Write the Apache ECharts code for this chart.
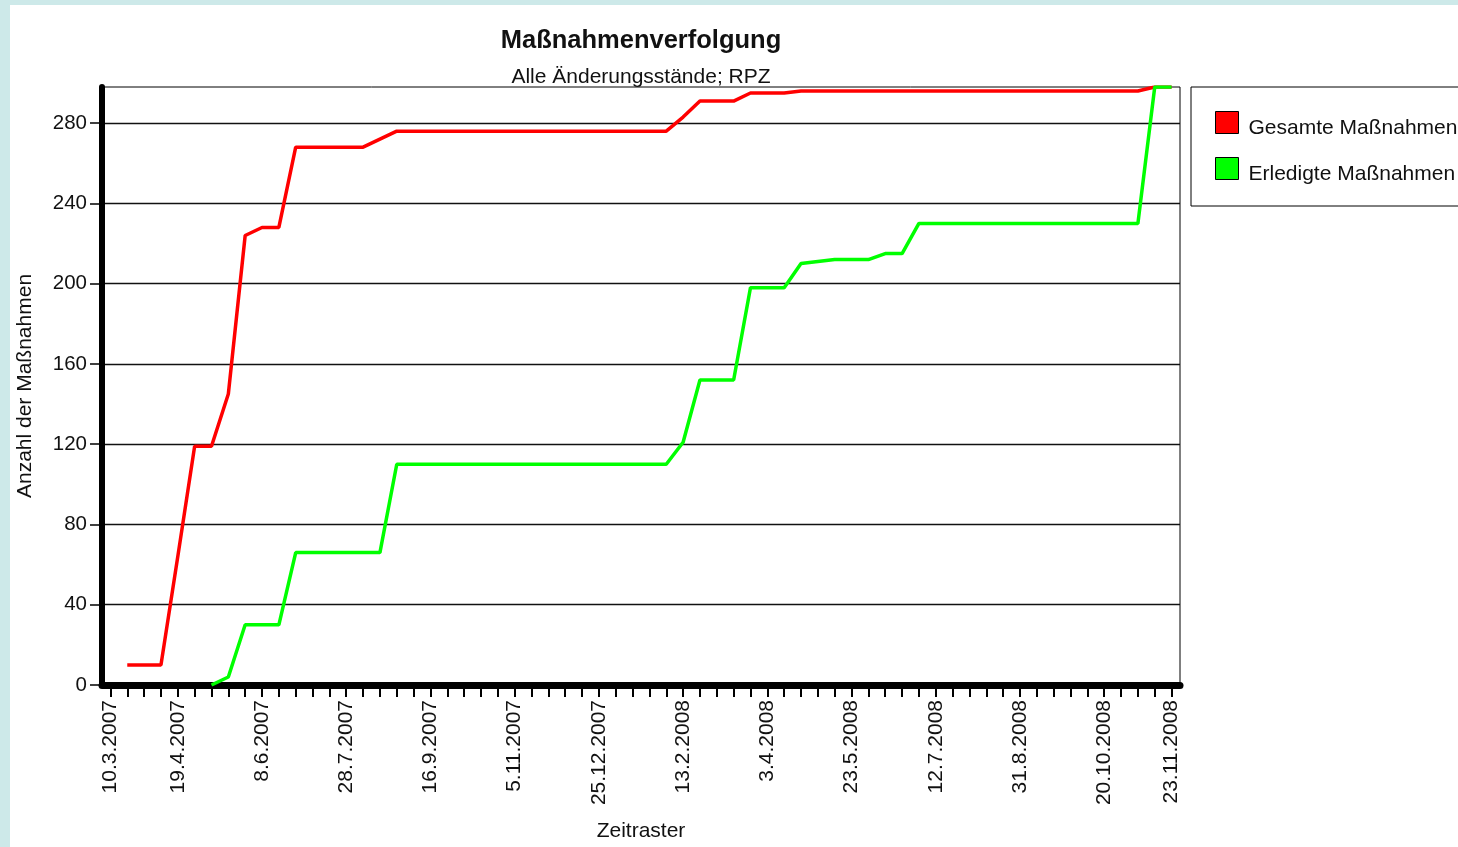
<!DOCTYPE html>
<html>
<head>
<meta charset="utf-8">
<script src="https://cdn.jsdelivr.net/npm/echarts@6/dist/echarts.min.js"></script>
<style>
html,body{margin:0;padding:0;background:#cde9e9;}
#chart{width:1458px;height:847px;}
</style>
</head>
<body>
<div id="chart"></div>
<script>
var categories = [
  '10.3.2007','20.3.2007','30.3.2007','9.4.2007','19.4.2007','29.4.2007','9.5.2007','19.5.2007','29.5.2007','8.6.2007',
  '18.6.2007','28.6.2007','8.7.2007','18.7.2007','28.7.2007','7.8.2007','17.8.2007','27.8.2007','6.9.2007','16.9.2007',
  '26.9.2007','6.10.2007','16.10.2007','26.10.2007','5.11.2007','15.11.2007','25.11.2007','5.12.2007','15.12.2007','25.12.2007',
  '4.1.2008','14.1.2008','24.1.2008','3.2.2008','13.2.2008','23.2.2008','4.3.2008','14.3.2008','24.3.2008','3.4.2008',
  '13.4.2008','23.4.2008','3.5.2008','13.5.2008','23.5.2008','2.6.2008','12.6.2008','22.6.2008','2.7.2008','12.7.2008',
  '22.7.2008','1.8.2008','11.8.2008','21.8.2008','31.8.2008','10.9.2008','20.9.2008','30.9.2008','10.10.2008','20.10.2008',
  '30.10.2008','9.11.2008','19.11.2008','23.11.2008'
];
var labelIndices = [0,4,9,14,19,24,29,34,39,44,49,54,59,63];

var gesamte = [
  null,10,10,10,64,119,119,145,224,228,
  228,268,268,268,268,268,272,276,276,276,
  276,276,276,276,276,276,276,276,276,276,
  276,276,276,276,283,291,291,291,295,295,
  295,296,296,296,296,296,296,296,296,296,
  296,296,296,296,296,296,296,296,296,296,
  296,296,298,298
];
var erledigte = [
  null,null,null,null,null,null,0,4,30,30,
  30,66,66,66,66,66,66,110,110,110,
  110,110,110,110,110,110,110,110,110,110,
  110,110,110,110,121,152,152,152,198,198,
  198,210,211,212,212,212,215,215,230,230,
  230,230,230,230,230,230,230,230,230,230,
  230,230,298,298
];
var yTicks = [0,40,80,120,160,200,240,280];

var FONT = "'Liberation Sans', Arial, sans-serif";
var chart = echarts.init(document.getElementById('chart'));
chart.setOption({
  backgroundColor: '#cde9e9',
  animation: false,
  graphic: [
    { type: 'rect', z: -10, silent: true, shape: { x: 10, y: 5, width: 1448, height: 842 }, style: { fill: '#ffffff' } },
    { type: 'text', x: 641, y: 41, style: { text: 'Maßnahmenverfolgung', font: 'bold 25.5px ' + FONT, fill: '#111', textAlign: 'center', textVerticalAlign: 'middle' } },
    { type: 'text', x: 641, y: 77, style: { text: 'Alle Änderungsstände; RPZ', font: '21px ' + FONT, fill: '#111', textAlign: 'center', textVerticalAlign: 'middle' } }
  ],
  grid: { left: 102, right: 278, top: 87, bottom: 162, show: true, borderColor: '#000', borderWidth: 1, backgroundColor: 'transparent' },
  legend: {
    orient: 'vertical', left: 1191, top: 87,
    padding: [24, 80, 21, 24],
    borderColor: '#000', borderWidth: 1, borderRadius: 0,
    icon: 'rect', itemWidth: 23, itemHeight: 22, itemGap: 18,
    itemStyle: { borderColor: '#000', borderWidth: 1 },
    formatter: function (name) { return '{t|' + name + '}'; },
    textStyle: {
      fontSize: 21, fontFamily: FONT, color: '#111',
      rich: { t: { fontSize: 21, fontFamily: FONT, color: '#111', padding: [12, 0, 0, 5] } }
    },
    data: ['Gesamte Maßnahmen', 'Erledigte Maßnahmen']
  },
  xAxis: {
    type: 'category', data: categories, boundaryGap: true,
    name: 'Zeitraster', nameLocation: 'middle', nameGap: 136,
    nameTextStyle: { fontSize: 21, fontFamily: FONT, color: '#111' },
    axisLine: { show: true, lineStyle: { color: '#000', width: 7, cap: 'round' } },
    axisTick: { show: true, alignWithLabel: true, interval: 0, length: 12, lineStyle: { color: '#000', width: 2 } },
    axisLabel: {
      show: true, rotate: 90, margin: 15, fontSize: 21, fontFamily: FONT, color: '#111',
      interval: function (idx) { return labelIndices.indexOf(idx) >= 0; }
    },
    splitLine: { show: false }
  },
  yAxis: {
    type: 'value', min: 0, max: 298, interval: 40,
    name: 'Anzahl der Maßnahmen', nameLocation: 'middle', nameGap: 66, nameRotate: 90,
    nameTextStyle: { fontSize: 21, fontFamily: FONT, color: '#111' },
    axisLine: { show: true, lineStyle: { color: '#000', width: 6, cap: 'round' } },
    axisTick: { show: true, length: 12, customValues: yTicks, lineStyle: { color: '#000', width: 1.5 } },
    axisLabel: { margin: 15, fontSize: 20.5, fontFamily: FONT, color: '#111', customValues: yTicks },
    splitLine: { show: true, lineStyle: { color: '#111', width: 1.3 } }
  },
  series: [
    { name: 'Gesamte Maßnahmen', type: 'line', data: gesamte, symbol: 'none', color: '#ff0000', lineStyle: { color: '#ff0000', width: 3.5 } },
    { name: 'Erledigte Maßnahmen', type: 'line', data: erledigte, symbol: 'none', color: '#00ff00', lineStyle: { color: '#00ff00', width: 3.5 } }
  ]
});
</script>
</body>
</html>
